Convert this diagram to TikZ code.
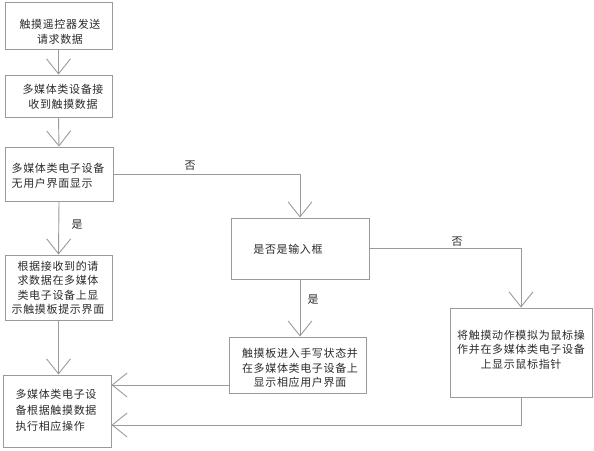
\documentclass[tikz,border=0pt]{standalone}
\usepackage{fontspec}
\setmainfont{Noto Sans CJK SC}
\newfontfamily\cjk[LetterSpace=6]{Noto Sans CJK SC}
\usetikzlibrary{arrows.meta}
\definecolor{ln}{HTML}{9A9A9A}
\definecolor{tx}{HTML}{2B2B2B}
\begin{document}
\begin{tikzpicture}[x=1pt,y=-1pt,
  box/.style={draw=ln,line width=0.9pt,inner sep=0pt},
  txt/.style={text=tx,inner sep=0pt,font=\cjk\fontsize{11}{14.5}\selectfont},
  lab/.style={text=tx,inner sep=0pt,font=\cjk\fontsize{11}{13}\selectfont},
  arr/.style={draw=ln,line width=0.9pt,-{Straight Barb[length=15pt,width=24pt,line width=0.9pt]}},
  con/.style={draw=ln,line width=0.9pt}]
\useasboundingbox (0,0) rectangle (594,450);
% boxes
\node[box,minimum width=107,minimum height=47] (b1) at (58.5,25.5) {};
\node[box,minimum width=107,minimum height=42] (b2) at (58.5,96) {};
\node[box,minimum width=108,minimum height=54] (b3) at (59,174) {};
\node[box,minimum width=138,minimum height=61] (b4) at (300,248.5) {};
\node[box,minimum width=107,minimum height=65] (b5) at (58.5,287.5) {};
\node[box,minimum width=137,minimum height=56] (b6) at (297.5,365) {};
\node[box,minimum width=142,minimum height=89] (b7) at (521,352.5) {};
\node[box,minimum width=108,minimum height=72] (b8) at (57,411) {};
% texts
\node[txt,align=center] (t1) at (60,32) {触摸遥控器发送\\请求数据};
\node[txt,align=center] (t2) at (63,97) {多媒体类设备接\\收到触摸数据};
\node[txt,align=left] (t3) at (58,176) {多媒体类电子设备\\无用户界面显示};
\node[txt] (t4) at (288,249) {是否是输入框};
\node[txt,align=center] (t5) at (58,288) {根据接收到的请\\求数据在多媒体\\类电子设备上显\\示触摸板提示界面};
\node[txt,align=center] (t6) at (300,368) {触摸板进入手写状态并\\在多媒体类电子设备上\\显示相应用户界面};
\node[txt,align=center] (t7) at (521,349.5) {将触摸动作模拟为鼠标操\\作并在多媒体类电子设备\\上显示鼠标指针};
\node[txt,align=left,font=\cjk\fontsize{11}{16}\selectfont] (t8) at (56,410) {多媒体类电子设\\备根据触摸数据\\执行相应操作};
% labels
\node[lab] (l1) at (190,166) {否};
\node[lab] (l2) at (77,225) {是};
\node[lab] (l3) at (313,300) {是};
\node[lab] (l4) at (457,242) {否};
% connectors
\draw[arr] (b1.south) -- (b2.north);
\draw[arr] (b2.south) -- (b3.north);
\draw[arr] (b3.south) -- (b5.north);
\draw[arr] (b3.east) -| (b4.north);
\draw[arr] (b4.south) -- (b4.south |- b6.north);
\draw[arr] (b4.east) -| (b7.north);
\draw[arr] (b5.south) -- (b5.south |- b8.north);
\draw[arr] (b6.west |- 0,385) -- (b8.east |- 0,385);
\coordinate (c7) at (b7.south |- 0,425);
\draw[arr] (b7.south) -- (c7) -- (b8.east |- c7);
\end{tikzpicture}
\end{document}
